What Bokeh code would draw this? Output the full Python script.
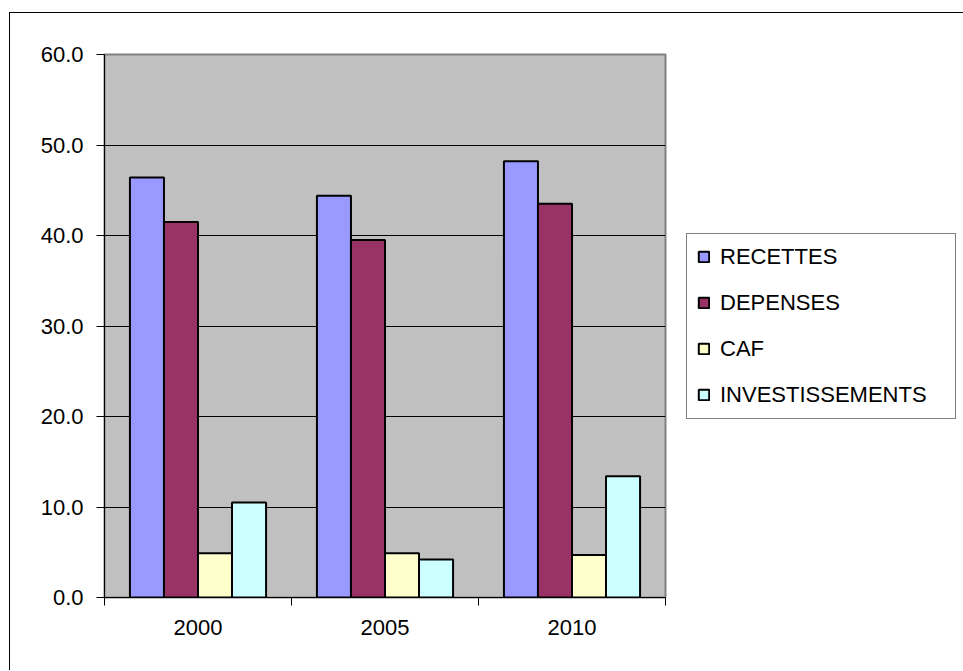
from bokeh.plotting import figure
from bokeh.models import (Range1d, FixedTicker, NumeralTickFormatter, Legend,
                          LegendItem, ColumnDataSource)
from bokeh.transform import dodge
from bokeh.embed import file_html
from bokeh.resources import INLINE

# ---- data ----
years = ["2000", "2005", "2010"]
series_names = ["RECETTES", "DEPENSES", "CAF", "INVESTISSEMENTS"]
recettes = [46.4, 44.4, 48.2]
depenses = [41.5, 39.5, 43.5]
caf = [4.9, 4.9, 4.7]
investissements = [10.5, 4.2, 13.4]
y_ticks = [0, 10, 20, 30, 40, 50, 60]

colors = ["#9999FF", "#993366", "#FFFFCC", "#CCFFFF"]
FONT = "Liberation Sans"

xs = list(range(len(years)))
source = ColumnDataSource(dict(
    x=xs,
    RECETTES=recettes,
    DEPENSES=depenses,
    CAF=caf,
    INVESTISSEMENTS=investissements,
))

p = figure(
    frame_width=561, frame_height=543,
    x_range=Range1d(-0.5, len(years) - 0.5),
    y_range=Range1d(0, 60),
    output_backend="svg", toolbar_location=None,
    min_border_left=94, min_border_right=296,
    min_border_top=41, min_border_bottom=73,
)
p.margin = (12, 0, 0, 9)
p.styles = {"border-left": "1px solid black", "border-top": "1px solid black"}

bar_w = 0.182
offsets = [-1.5 * bar_w, -0.5 * bar_w, 0.5 * bar_w, 1.5 * bar_w]
items = []
for name, col, off in zip(series_names, colors, offsets):
    r = p.vbar(x=dodge("x", off, range=p.x_range), top=name, width=bar_w,
               source=source, fill_color=col, line_color="black", line_width=2)
    items.append(LegendItem(label=name, renderers=[r]))

p.background_fill_color = "#C0C0C0"
p.border_fill_color = "white"
p.outline_line_color = "#808080"
p.outline_line_width = 2

# x axis: labels at centers, ticks at category boundaries
p.xaxis.ticker = FixedTicker(ticks=xs, minor_ticks=[i - 0.5 for i in range(len(years) + 1)])
p.xaxis.major_label_overrides = {i: y for i, y in zip(xs, years)}
p.xaxis.major_tick_out = 0
p.xaxis.major_tick_in = 0
p.xaxis.minor_tick_out = 8
p.xaxis.minor_tick_in = 0
p.xaxis.minor_tick_line_color = "black"
p.xaxis.major_label_standoff = 14

p.yaxis.ticker = FixedTicker(ticks=y_ticks)
p.yaxis.formatter = NumeralTickFormatter(format="0.0")
p.yaxis.major_tick_out = 8
p.yaxis.major_tick_in = 0
p.yaxis.minor_tick_out = 0
p.yaxis.minor_tick_in = 0
p.yaxis.major_label_standoff = 13

for ax in (p.xaxis, p.yaxis):
    ax.axis_line_color = "black"
    ax.major_tick_line_color = "black"
    ax.major_label_text_font = FONT
    ax.major_label_text_font_size = "22px"
    ax.major_label_text_color = "black"

p.xgrid.visible = False
p.ygrid.ticker = FixedTicker(ticks=y_ticks)
p.ygrid.grid_line_color = "black"
p.ygrid.grid_line_width = 1

legend = Legend(items=items, location="center_left", margin=21, padding=10,
                spacing=20, label_height=22, label_width=225, glyph_width=13, glyph_height=13,
                label_standoff=10, label_text_font=FONT, label_text_font_size="22px",
                label_text_color="black",
                border_line_color="black", border_line_width=1,
                background_fill_color="white", background_fill_alpha=1.0)
p.add_layout(legend, "right")

open("out.html", "w").write(file_html(p, INLINE))
